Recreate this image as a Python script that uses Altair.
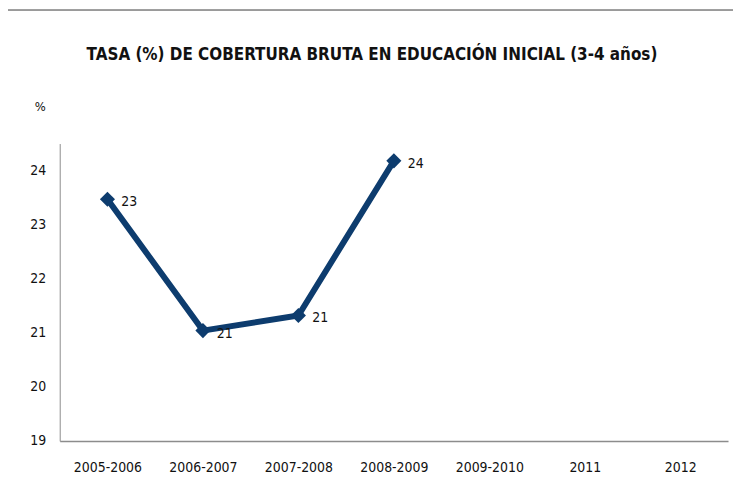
import altair as alt
import pandas as pd

categories = ["2005-2006", "2006-2007", "2007-2008", "2008-2009", "2009-2010", "2011", "2012"]
values = [23.47, 21.04, 21.32, 24.18, None, None, None]
labels = ["23", "21", "21", "24", "", "", ""]

df = pd.DataFrame({"periodo": categories, "tasa": values, "etiqueta": labels})
df_pts = df.dropna()

FONT = "Liberation Sans Narrow, DejaVu Sans Condensed, Roboto Condensed, sans-serif"
NAVY = "#0d3c6e"

x_enc = alt.X("periodo:N", sort=categories,
              scale=alt.Scale(type="point", domain=categories, padding=0.5),
              axis=alt.Axis(title=None, labelAngle=0, ticks=False, labelPadding=20,
                            labelFontSize=14, labelFont=FONT, labelColor="#111",
                            domainColor="#8c8c8c", domainWidth=1.5, grid=False))
y_enc = alt.Y("tasa:Q",
              scale=alt.Scale(domain=[19, 24.5], nice=False, zero=False),
              axis=alt.Axis(values=[19, 20, 21, 22, 23, 24], format="d", ticks=False,
                            labelPadding=14, labelFontSize=14, labelFont=FONT,
                            labelColor="#111", domainColor="#8c8c8c", domainWidth=1,
                            grid=False, title="%", titleAngle=0, titleX=-20, titleY=-30,
                            titleAlign="center", titleFont=FONT, titleFontSize=13,
                            titleFontWeight="normal", titleColor="#111"))

line = alt.Chart(df_pts).mark_line(color=NAVY, strokeWidth=6).encode(x=x_enc, y=y_enc)
pts = alt.Chart(df_pts).mark_point(shape="diamond", filled=True, size=230, color=NAVY,
                                   opacity=1).encode(x=x_enc, y=y_enc)
txt = alt.Chart(df_pts).mark_text(align="left", baseline="middle", dx=14, dy=3,
                                  fontSize=14, font=FONT, color="#111").encode(
    x=x_enc, y=y_enc, text="etiqueta:N")

border_top = alt.Chart(df_pts).mark_rule(color="#9a9a9a", strokeWidth=1.5).encode(
    x=alt.value(-53), x2=alt.value(740), y=alt.value(-134))
border_left = alt.Chart(df_pts).mark_rule(color="#9a9a9a", strokeWidth=1.5).encode(
    x=alt.value(-53), y=alt.value(-134), y2=alt.value(340))

chart = alt.layer(border_top, border_left, line, pts, txt).properties(
    width=672, height=299,
    background="white",
    autosize=alt.AutoSizeParams(type="none"),
    padding={"left": 52, "top": 135, "right": 5, "bottom": 35},
    title=alt.TitleParams(
        "TASA (%) DE COBERTURA BRUTA EN EDUCACIÓN INICIAL (3-4 años)",
        font=FONT, fontSize=17, fontWeight="bold", color="#111",
        anchor="middle", frame="group", offset=-55, dx=-22),
).configure_view(strokeWidth=0, stroke="transparent")

chart.save("out.html", embed_options={"renderer": "svg", "actions": False})
